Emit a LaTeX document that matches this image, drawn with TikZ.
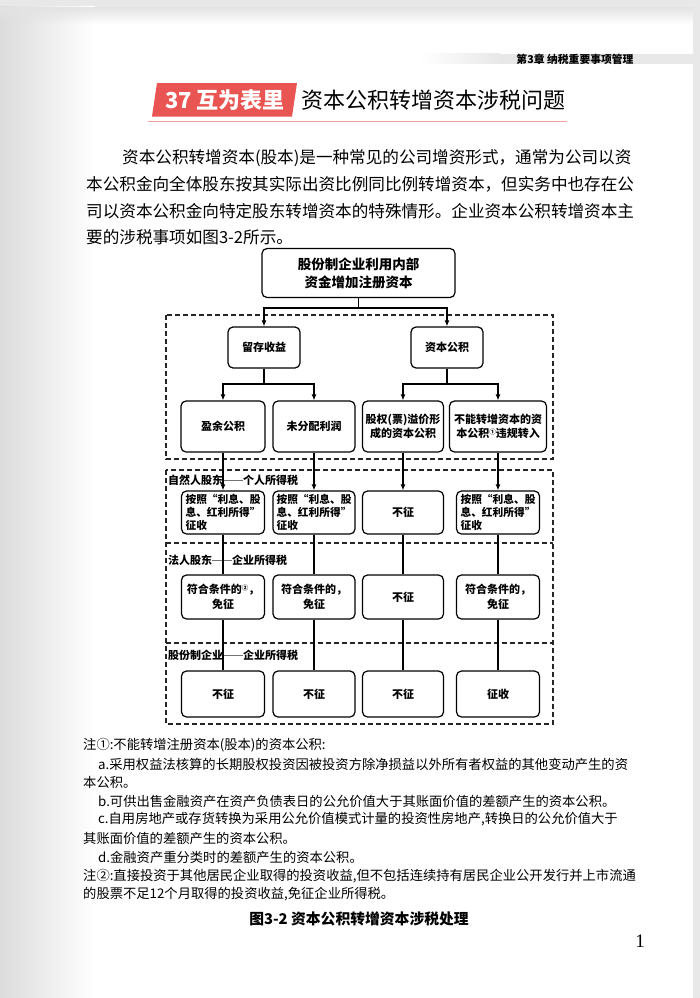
\documentclass[tikz,border=0pt]{standalone}
\usepackage{fontspec}
\setmainfont{Noto Sans CJK SC}
\newfontfamily\serifnum{Liberation Serif}
\usetikzlibrary{arrows.meta,fadings}
\definecolor{titlered}{RGB}{233,85,82}
\definecolor{titleline}{RGB}{242,160,160}
\definecolor{bandgray}{RGB}{232,232,232}
\tikzset{
  fbox/.style={draw=black, line width=1.2pt, rounded corners=5pt, fill=white, inner sep=1pt,
    align=center, font=\fontsize{11}{14.5}\selectfont\bfseries},
  region/.style={draw=black!85, line width=1.1pt, dash pattern=on 5pt off 3pt},
  conn/.style={line width=1.2pt, draw=black},
  arr/.style={conn, -{Latex[length=6pt,width=5pt]}},
  lbl/.style={anchor=west, inner sep=0pt, font=\fontsize{11}{13}\selectfont\bfseries},
  para/.style={anchor=west, inner sep=0pt, font=\fontsize{16.6}{20}\selectfont},
  note/.style={anchor=west, inner sep=0pt, font=\fontsize{13.3}{16}\selectfont},
  sep/.style={line width=0.6pt, draw=black!55},
}
\newcommand\supc[1]{\raisebox{3.5pt}{\fontsize{6.5}{7}\selectfont #1}}
\begin{document}
\begin{tikzpicture}[x=1pt,y=-1pt]
\useasboundingbox (0,0) rectangle (700,998);
% page
\fill[gray!18] (0,0) rectangle (700,998);
\fill[white] (0,7) rectangle (693,998);
\shade[left color=gray!28, right color=white] (0,7) rectangle (95,998);
\fill[gray!22, path fading=south] (0,7) rectangle (693,24);
% header band
\shade[left color=white, right color=bandgray] (420,54) rectangle (500,64);
\fill[bandgray] (500,54) rectangle (693,64);
\node[font=\fontsize{10.8}{12}\selectfont\bfseries, inner sep=0pt] (hdr) at (575,59) {第3章 纳税重要事项管理};
% title
\fill[titlered] (157,83) -- (297,83) -- (292,116.5) -- (152,116.5) -- cycle;
\node[font=\fontsize{22}{24}\selectfont\bfseries, text=white, inner sep=0pt] (tnum) at (225,100) {37 互为表里};
\node[font=\fontsize{22}{24}\selectfont, anchor=west, inner sep=0pt] (ttl) at (301,100) {资本公积转增资本涉税问题};
\draw[titleline, line width=1pt] (148,121) -- (567,121);
% paragraph
\node[para] (p1) at (122,158) {资本公积转增资本(股本)是一种常见的公司增资形式，通常为公司以资};
\node[para] (p2) at (86,184.5) {本公积金向全体股东按其实际出资比例同比例转增资本，但实务中也存在公};
\node[para] (p3) at (86,211) {司以资本公积金向特定股东转增资本的特殊情形。企业资本公积转增资本主};
\node[para] (p4) at (86,237) {要的涉税事项如图3-2所示。};
% dashed regions
\draw[region] (166,315) rectangle (553,459);
\draw[region] (166,470) rectangle (553,724);
\draw[region] (166,543) -- (553,543);
\draw[region] (166,643) -- (553,643);
% boxes
\node[fbox, minimum width=193pt, minimum height=49pt, font=\fontsize{13.5}{18}\selectfont\bfseries] (top) at (358.5,273) {股份制企业利用内部\\资金增加注册资本};
\node[fbox, minimum width=72pt, minimum height=41pt] (A) at (264,347.5) {留存收益};
\node[fbox, minimum width=72pt, minimum height=41pt] (B) at (447,347.5) {资本公积};
\node[fbox, minimum width=84pt, minimum height=51pt] (c1) at (223,426.5) {盈余公积};
\node[fbox, minimum width=82pt, minimum height=51pt] (c2) at (314,426.5) {未分配利润};
\node[fbox, minimum width=81pt, minimum height=51pt] (c3) at (403,426.5) {股权(票)溢价形\\成的资本公积};
\node[fbox, minimum width=97pt, minimum height=51pt] (c4) at (498,426.5) {不能转增资本的资\\本公积\supc{①}违规转入};
\node[fbox, minimum width=83pt, minimum height=43pt, align=left, font=\fontsize{10.7}{12.8}\selectfont\bfseries] (d1) at (223,512.5) {按照“利息、股\\息、红利所得”\\征收};
\node[fbox, minimum width=82pt, minimum height=43pt, align=left, font=\fontsize{10.7}{12.8}\selectfont\bfseries] (d2) at (314,512.5) {按照“利息、股\\息、红利所得”\\征收};
\node[fbox, minimum width=81pt, minimum height=43pt] (d3) at (403,512.5) {不征};
\node[fbox, minimum width=83pt, minimum height=43pt, align=left, font=\fontsize{10.7}{12.8}\selectfont\bfseries] (d4) at (498,512.5) {按照“利息、股\\息、红利所得”\\征收};
\node[fbox, minimum width=83pt, minimum height=44pt] (e1) at (223,597) {符合条件的\supc{②}，\\免征};
\node[fbox, minimum width=82pt, minimum height=44pt] (e2) at (314,597) {符合条件的，\\免征};
\node[fbox, minimum width=81pt, minimum height=44pt] (e3) at (403,597) {不征};
\node[fbox, minimum width=83pt, minimum height=44pt] (e4) at (498,597) {符合条件的，\\免征};
\node[fbox, minimum width=83pt, minimum height=46pt] (f1) at (223,694) {不征};
\node[fbox, minimum width=82pt, minimum height=46pt] (f2) at (314,694) {不征};
\node[fbox, minimum width=81pt, minimum height=46pt] (f3) at (403,694) {不征};
\node[fbox, minimum width=83pt, minimum height=46pt] (f4) at (498,694) {征收};
% labels
\node[lbl] (l1a) at (168,480) {自然人股东};
\node[lbl] (l1b) at (243,480) {个人所得税};
\draw[sep] (l1a.east) -- (l1b.west);
\node[lbl] (l2a) at (168,560) {法人股东};
\node[lbl] (l2b) at (232,560) {企业所得税};
\draw[sep] (l2a.east) -- (l2b.west);
\node[lbl] (l3a) at (168,655) {股份制企业};
\node[lbl] (l3b) at (243,655) {企业所得税};
\draw[sep] (l3a.east) -- (l3b.west);
% connectors
\coordinate (j1) at (358.5,308);
\draw[conn] (top.south) -- (j1);
\draw[arr] (j1) -| (A.north);
\draw[arr] (j1) -| (B.north);
\coordinate (j2) at (264,384);
\draw[conn] (A.south) -- (j2);
\draw[arr] (j2) -| (c1.north);
\draw[arr] (j2) -| (c2.north);
\coordinate (j3) at (447,384);
\draw[conn] (B.south) -- (j3);
\draw[arr] (j3) -| (c3.north);
\draw[arr] (j3) -| (c4.north);
\foreach \i in {1,2,3,4}{
  \draw[arr] (c\i.south) -- (d\i.north);
  \draw[conn] (d\i.south) -- (e\i.north);
  \draw[conn] (e\i.south) -- (f\i.north);
}
% notes
\node[note] (n1) at (83,745) {注①:不能转增注册资本(股本)的资本公积:};
\node[note] (n2) at (98,764) {a.采用权益法核算的长期股权投资因被投资方除净损益以外所有者权益的其他变动产生的资};
\node[note] (n3) at (83,782.5) {本公积。};
\node[note] (n4) at (98,801) {b.可供出售金融资产在资产负债表日的公允价值大于其账面价值的差额产生的资本公积。};
\node[note] (n5) at (98,819.5) {c.自用房地产或存货转换为采用公允价值模式计量的投资性房地产,转换日的公允价值大于};
\node[note] (n6) at (83,838) {其账面价值的差额产生的资本公积。};
\node[note] (n7) at (98,857) {d.金融资产重分类时的差额产生的资本公积。};
\node[note] (n8) at (83,876) {注②:直接投资于其他居民企业取得的投资收益,但不包括连续持有居民企业公开发行并上市流通};
\node[note] (n9) at (83,894.5) {的股票不足12个月取得的投资收益,免征企业所得税。};
% caption and page number
\node[font=\fontsize{14.8}{16}\selectfont\bfseries, inner sep=0pt] (cap) at (359,919) {图3-2 资本公积转增资本涉税处理};
\node[font=\serifnum\fontsize{19}{19}\selectfont, inner sep=0pt] (pg) at (640,941) {1};
\end{tikzpicture}
\end{document}
